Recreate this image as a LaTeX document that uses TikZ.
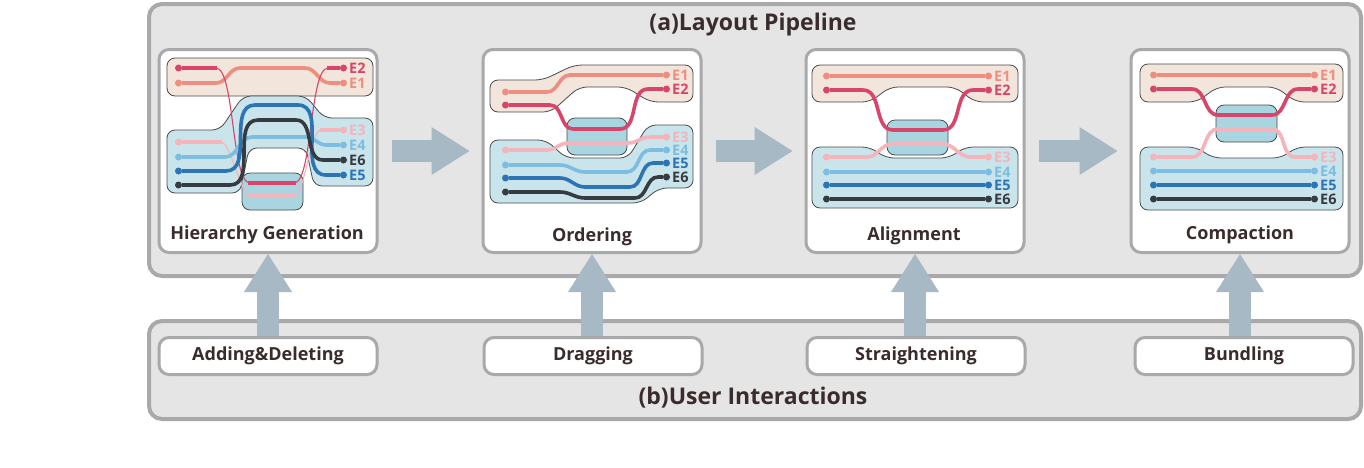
\documentclass[tikz,border=0pt]{standalone}
\usepackage{fontspec}
\setmainfont{Open Sans}
\usetikzlibrary{arrows.meta,positioning}

\definecolor{colE1}{HTML}{EE8E80}
\definecolor{colE2}{HTML}{D8446A}
\definecolor{colE3}{HTML}{F4B4BA}
\definecolor{colE4}{HTML}{7DBDE2}
\definecolor{colE5}{HTML}{2D74B4}
\definecolor{colE6}{HTML}{363B41}
\definecolor{framegray}{HTML}{A9A9AB}
\definecolor{framefill}{HTML}{E5E5E5}
\definecolor{arrowblue}{HTML}{A6B9C4}
\definecolor{groupbeige}{HTML}{F2E5DC}
\definecolor{groupblue}{HTML}{C9E5EB}
\definecolor{boxblue}{HTML}{A9D5E0}
\definecolor{groupline}{HTML}{4A4A4A}
\definecolor{ink}{HTML}{3A2C2C}

\tikzset{
  outerbox/.style={draw=framegray, line width=4pt, fill=framefill, rounded corners=13pt, minimum width=1212pt},
  panel/.style={draw=framegray, line width=3pt, fill=white, rounded corners=10pt, minimum width=218pt, minimum height=203pt},
  button/.style={draw=framegray, line width=3pt, fill=white, rounded corners=10pt, minimum width=218pt, minimum height=37pt, font=\bfseries\fontsize{18}{20}\selectfont, text=ink},
  headline/.style={font=\bfseries\fontsize{23}{25}\selectfont, text=ink},
  stagename/.style={font=\bfseries\fontsize{18}{20}\selectfont, text=ink},
  flow/.style={draw=arrowblue, line width=22pt, -{Triangle[width=48pt,length=38pt,line width=0pt]}},
  group/.style={draw=groupline, line width=0.8pt, rounded corners=8pt},
  strand/.style={line width=3.6pt},
  thread/.style={line width=1.1pt},
  dotboth/.style={arrows={Circle[length=7pt,line width=0pt]-Circle[length=7pt,line width=0pt]}},
  dotstart/.style={arrows={Circle[length=7pt,line width=0pt]-}},
  dotend/.style={arrows={-Circle[length=7pt,line width=0pt]}},
  elabel/.style={anchor=west, inner sep=0pt, font=\bfseries\fontsize{14.5}{15}\selectfont}
}

\begin{document}
\begin{tikzpicture}[x=1pt, y=-1pt]
\useasboundingbox (0,0) rectangle (1364,467);

% frames
\node[outerbox, minimum height=272pt] (pipeline) at (755,140) {};
\node[outerbox, minimum height=98pt] (interact) at (755,370) {};
\node[headline] (pipetitle) at (753,25) {(a)Layout Pipeline};
\node[headline] (usertitle) at (753,398) {(b)User Interactions};

% stages
\node[panel] (hier) at (268,151) {};
\node[panel] (order) at (592,151) {};
\node[panel] (align) at (915,151) {};
\node[panel] (compact) at (1240,151) {};
\node[stagename] (hierlabel) at (267,235) {Hierarchy Generation};
\node[stagename] (orderlabel) at (592,237) {Ordering};
\node[stagename] (alignlabel) at (914,236) {Alignment};
\node[stagename] (compactlabel) at (1240,235) {Compaction};

% interactions
\node[button] (adddel) at (268,356) {Adding\&Deleting};
\node[button] (drag) at (593,356) {Dragging};
\node[button] (straight) at (916,356) {Straightening};
\node[button] (bundle) at (1244,356) {Bundling};

% arrows
\draw[flow, shorten <=13.5pt, shorten >=12pt] (hier.east) -- (order.west);
\draw[flow, shorten <=13.5pt, shorten >=12pt] (order.east) -- (align.west);
\draw[flow, shorten <=13.5pt, shorten >=12pt] (align.east) -- (compact.west);
\foreach \s/\b in {hier/adddel, order/drag, align/straight, compact/bundle}
  \draw[flow] (\s.south |- \b.north) -- (\s.south);

% hierarchy generation
\draw[group, fill=groupbeige] (167,58) rectangle (373,96);
\draw[group, fill=groupblue] (167,130) -- (220,130) -- (243,96) -- (306,96) -- (324,118)
  -- (373,118) -- (373,186) -- (314,186) -- (306,148) -- (249,148) -- (240,193)
  -- (167,193) -- cycle;
\draw[group, fill=boxblue] (242,173) rectangle (303,210);
\draw[strand, colE1, dotboth] (175,83) -- (216,83) to[out=0,in=180] (240,68) -- (305,68)
  to[out=0,in=180] (330,83) -- (347,83);
\draw[thread, colE2] (216,68) to[out=0,in=180,looseness=.4] (250,183)
  (294,183) to[out=0,in=180,looseness=.4] (328,68);
\draw[strand, colE2, dotstart] (175,68) -- (217,68);
\draw[strand, colE2] (248,183) -- (296,183);
\draw[strand, colE2, dotend] (327,68) -- (347,68);
\draw[thread, colE3] (221,142) to[out=0,in=180,looseness=.4] (250,195)
  (294,195) to[out=0,in=180,looseness=.4] (321,130);
\draw[strand, colE3, dotstart] (175,142) -- (222,142);
\draw[strand, colE3] (248,195) -- (296,195);
\draw[strand, colE3, dotend] (320,130) -- (347,130);
\draw[strand, colE4, dotboth] (175,157) -- (225,157) to[out=0,in=180] (252,137) -- (306,137)
  to[out=0,in=180] (326,145) -- (347,145);
\draw[strand, colE5, dotboth] (175,171) -- (226,171) to[out=0,in=180] (255,105) -- (298,105)
  to[out=0,in=180] (326,175) -- (347,175);
\draw[strand, colE6, dotboth] (175,185) -- (230,185) to[out=0,in=180] (258,120) -- (296,120)
  to[out=0,in=180] (323,160) -- (347,160);
\foreach \n/\y in {2/68, 1/83, 3/130, 4/145, 6/160, 5/175}
  \node[elabel, text=colE\n] (hier-e\n) at (349,\y) {E\n};

% ordering
\draw[group, fill=groupbeige] (490,80) -- (543,80) -- (574,65) -- (693,65) -- (693,102)
  -- (650,102) -- (626,87) -- (579,87) -- (551,112) -- (490,112) -- cycle;
\draw[group, fill=groupblue] (490,140) -- (546,140) -- (566,158) -- (628,158) -- (648,125)
  -- (693,125) -- (693,188) -- (659,188) -- (641,203) -- (490,203) -- cycle;
\draw[group, fill=boxblue] (567,118) rectangle (627,155);
\draw[strand, colE1, dotboth] (502,92) -- (547,92) to[out=0,in=180] (570,75) -- (670,75);
\draw[strand, colE2, dotboth] (502,105) -- (550,105) to[out=0,in=180] (573,129) -- (620,129)
  to[out=0,in=180] (648,89) -- (670,89);
\draw[strand, colE3, dotboth] (502,150) -- (547,150) to[out=0,in=180] (568,143) -- (628,143)
  to[out=0,in=180] (650,137) -- (670,137);
\draw[strand, colE4, dotboth] (502,165) -- (560,165) to[out=0,in=180] (585,172) -- (627,172)
  to[out=0,in=180] (650,150) -- (670,150);
\draw[strand, colE5, dotboth] (502,178) -- (560,178) to[out=0,in=180] (585,187) -- (630,187)
  to[out=0,in=180] (653,163) -- (670,163);
\draw[strand, colE6, dotboth] (502,192) -- (560,192) to[out=0,in=180] (585,198) -- (635,198)
  to[out=0,in=180] (658,177) -- (670,177);
\foreach \n/\y in {1/75, 2/89, 3/137, 4/150, 5/163, 6/177}
  \node[elabel, text=colE\n] (order-e\n) at (672,\y) {E\n};

% alignment
\draw[group, fill=groupbeige] (812,65) -- (1018,65) -- (1018,102) -- (975,102) -- (955,87)
  -- (890,87) -- (870,102) -- (812,102) -- cycle;
\draw[group, fill=groupblue] (812,147) -- (870,147) -- (886,158) -- (949,158) -- (965,147)
  -- (1018,147) -- (1018,208) -- (812,208) -- cycle;
\draw[group, fill=boxblue] (887,120) rectangle (948,155);
\draw[strand, colE1, dotboth] (823,76) -- (992,76);
\draw[strand, colE2, dotboth] (823,90) -- (863,90) to[out=0,in=180] (893,130) -- (943,130)
  to[out=0,in=180] (973,90) -- (992,90);
\draw[strand, colE3, dotboth] (823,157) -- (867,157) to[out=0,in=180] (892,144) -- (943,144)
  to[out=0,in=180] (970,157) -- (992,157);
\foreach \n/\y in {4/172, 5/185, 6/199}
  \draw[strand, colE\n, dotboth] (823,\y) -- (992,\y);
\foreach \n/\y in {1/76, 2/90, 3/157, 4/172, 5/185, 6/199}
  \node[elabel, text=colE\n] (align-e\n) at (994,\y) {E\n};

% compaction
\draw[group, fill=groupbeige] (1140,64) -- (1343,64) -- (1343,102) -- (1296,102) -- (1276,87)
  -- (1217,87) -- (1197,102) -- (1140,102) -- cycle;
\draw[group, fill=groupblue] (1140,147) -- (1196,147) -- (1213,158) -- (1281,158) -- (1297,147)
  -- (1343,147) -- (1343,210) -- (1140,210) -- cycle;
\draw[group, fill=boxblue] (1216,105) rectangle (1277,142);
\draw[strand, colE1, dotboth] (1150,75) -- (1318,75);
\draw[strand, colE2, dotboth] (1150,89) -- (1192,89) to[out=0,in=180] (1218,115) -- (1272,115)
  to[out=0,in=180] (1298,89) -- (1318,89);
\draw[strand, colE3, dotboth] (1150,157) -- (1192,157) to[out=0,in=180] (1218,129) -- (1272,129)
  to[out=0,in=180] (1295,157) -- (1318,157);
\foreach \n/\y in {4/171, 5/185, 6/199}
  \draw[strand, colE\n, dotboth] (1150,\y) -- (1318,\y);
\foreach \n/\y in {1/75, 2/89, 3/157, 4/171, 5/185, 6/199}
  \node[elabel, text=colE\n] (compact-e\n) at (1320,\y) {E\n};
\end{tikzpicture}
\end{document}
